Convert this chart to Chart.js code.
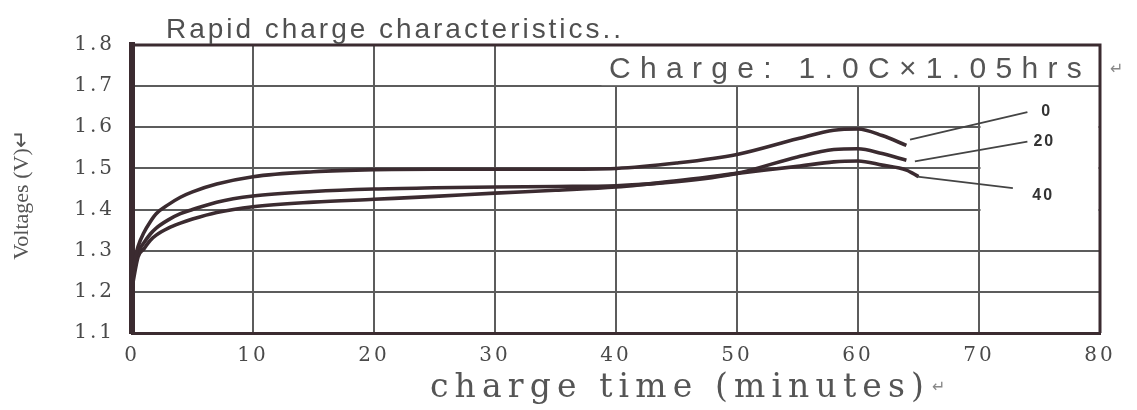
<!DOCTYPE html>
<html>
<head>
<meta charset="utf-8">
<script src="https://cdn.jsdelivr.net/npm/chart.js@4.4.1/dist/chart.umd.min.js"></script>
<style>
  html, body { margin: 0; padding: 0; background: #fff; }
  canvas { display: block; }
</style>
</head>
<body>
<canvas id="grafico" width="1137" height="410"></canvas>
<script>
// datos (tiempo en minutos, voltaje en V)
const tiempos = [0, 0.5, 1, 1.5, 2, 3, 4, 5, 7, 10, 15, 20, 25, 30, 35, 40, 45, 50, 55, 58, 60, 62, 64, 65];
const curva0  = [1.25, 1.31, 1.345, 1.37, 1.39, 1.412, 1.43, 1.443, 1.462, 1.48, 1.492, 1.497, 1.498, 1.498, 1.498, 1.5, 1.513, 1.534, 1.572, 1.593, 1.596, 1.58, 1.556, null];
const curva20 = [1.23, 1.295, 1.32, 1.34, 1.355, 1.375, 1.39, 1.40, 1.418, 1.433, 1.444, 1.45, 1.453, 1.455, 1.456, 1.458, 1.468, 1.488, 1.528, 1.546, 1.548, 1.536, 1.52, null];
const curva40 = [1.21, 1.285, 1.305, 1.325, 1.338, 1.355, 1.367, 1.377, 1.393, 1.407, 1.418, 1.425, 1.432, 1.44, 1.447, 1.455, 1.47, 1.488, 1.505, 1.516, 1.518, 1.508, 1.496, 1.48];
const etiquetasCurva = ['0', '20', '40'];
// líneas guía: [t inicio, v inicio, t fin, v fin, t etiqueta, v etiqueta]
const guias = [
  [64.3, 1.570, 74.0, 1.637, 75.6, 1.637],
  [64.7, 1.517, 74.0, 1.565, 75.4, 1.565],
  [64.9, 1.480, 72.8, 1.452, 75.3, 1.435]
];
const ticksX = [0, 10, 20, 30, 40, 50, 60, 70, 80];
const ticksY = [1.1, 1.2, 1.3, 1.4, 1.5, 1.6, 1.7, 1.8];

const OSCURO = '#3b2b30';
const GRIS = '#5c5c5c';

function puntos(valores) {
  return tiempos.map((t, i) => ({ x: t, y: valores[i] })).filter(p => p.y !== null);
}

function textoAjustado(ctx, texto, x, y, ancho) {
  ctx.letterSpacing = '0px';
  const w = ctx.measureText(texto).width;
  const esp = Math.max(0, (ancho - w) / texto.length);
  ctx.letterSpacing = esp + 'px';
  ctx.fillText(texto, x, y);
  ctx.letterSpacing = '0px';
}

const extras = {
  id: 'extras',
  beforeDraw(chart) {
    // espaciado de los números de los ejes
    chart.ctx.letterSpacing = '3px';
  },
  beforeDatasetsDraw(chart) {
    const { ctx, chartArea: a, scales: { x, y } } = chart;
    ctx.save();
    ctx.fillStyle = '#fff';
    // recuadro del texto "Charge"
    ctx.fillRect(x.getPixelForValue(38.8), a.top + 1, a.right - x.getPixelForValue(38.8) - 1, y.getPixelForValue(1.7) - a.top - 2);
    // zona de etiquetas de las curvas
    ctx.fillRect(x.getPixelForValue(70) + 1.5, y.getPixelForValue(1.7) + 1.5, a.right - x.getPixelForValue(70) - 3, y.getPixelForValue(1.35) - y.getPixelForValue(1.7));
    // marco superior y derecho
    ctx.strokeStyle = OSCURO;
    ctx.lineWidth = 3;
    ctx.beginPath();
    ctx.moveTo(a.left, a.top);
    ctx.lineTo(a.right, a.top);
    ctx.lineTo(a.right, a.bottom);
    ctx.stroke();
    ctx.restore();
  },
  afterDatasetsDraw(chart) {
    const { ctx, chartArea: a, scales: { x, y } } = chart;
    ctx.save();
    // líneas guía y etiquetas 0 / 20 / 40
    ctx.strokeStyle = '#444';
    ctx.lineWidth = 1.8;
    ctx.fillStyle = '#333';
    ctx.font = 'bold 16px "Liberation Sans"';
    ctx.textAlign = 'center';
    ctx.textBaseline = 'middle';
    guias.forEach((g, i) => {
      ctx.beginPath();
      ctx.moveTo(x.getPixelForValue(g[0]), y.getPixelForValue(g[1]));
      ctx.lineTo(x.getPixelForValue(g[2]), y.getPixelForValue(g[3]));
      ctx.stroke();
      ctx.letterSpacing = '2px';
      ctx.fillText(etiquetasCurva[i], x.getPixelForValue(g[4]), y.getPixelForValue(g[5]));
      ctx.letterSpacing = '0px';
    });

    // título
    ctx.textAlign = 'left';
    ctx.textBaseline = 'alphabetic';
    ctx.fillStyle = '#505050';
    ctx.font = '28px "Liberation Sans"';
    textoAjustado(ctx, 'Rapid charge characteristics..', 166, 38, 458);

    // condición de carga
    ctx.font = '30px "Liberation Sans"';
    ctx.fillStyle = '#555';
    textoAjustado(ctx, 'Charge: 1.0C\u00d71.05hrs', 609, 78, 482);
    ctx.font = '16px "DejaVu Sans"';
    ctx.fillStyle = '#888';
    ctx.fillText('\u21b5', 1110, 74);

    // título eje X
    ctx.font = '33px "DejaVu Serif"';
    ctx.fillStyle = '#555';
    textoAjustado(ctx, 'charge time (minutes)', 430, 397, 500);
    ctx.font = '16px "DejaVu Sans"';
    ctx.fillStyle = '#888';
    ctx.fillText('\u21b5', 932, 392);

    // título eje Y
    ctx.translate(28, 195);
    ctx.rotate(-Math.PI / 2);
    ctx.textAlign = 'center';
    ctx.font = '22px "Liberation Serif"';
    ctx.fillStyle = '#555';
    ctx.fillText('Voltages (V)\u21b5', 0, 0);
    ctx.restore();
  }
};

function crearGrafico() {
  const ctx = document.getElementById('grafico').getContext('2d');
  const estilo = { borderColor: OSCURO, borderWidth: 3.6, pointRadius: 0, cubicInterpolationMode: 'monotone', fill: false };
  new Chart(ctx, {
    type: 'line',
    data: {
      datasets: [
        Object.assign({ label: etiquetasCurva[0], data: puntos(curva0) }, estilo),
        Object.assign({ label: etiquetasCurva[1], data: puntos(curva20) }, estilo),
        Object.assign({ label: etiquetasCurva[2], data: puntos(curva40) }, estilo)
      ]
    },
    options: {
      responsive: false,
      animation: false,
      layout: { padding: { top: 45, right: 37, left: 0, bottom: 0 } },
      plugins: { legend: { display: false }, tooltip: { enabled: false } },
      scales: {
        x: {
          type: 'linear',
          min: 0, max: 80,
          afterBuildTicks: s => { s.ticks = ticksX.map(v => ({ value: v })); },
          afterFit: s => { s.height = 77; },
          grid: { color: GRIS, lineWidth: 2, drawTicks: false },
          border: { color: OSCURO, width: 3 },
          ticks: { padding: 11, color: '#4a4a4a', font: { family: '"DejaVu Serif"', size: 20 } }
        },
        y: {
          type: 'linear',
          min: 1.1, max: 1.8,
          afterBuildTicks: s => { s.ticks = ticksY.map(v => ({ value: v })); },
          afterFit: s => { s.width = 132; },
          grid: { color: GRIS, lineWidth: 2, drawTicks: false },
          border: { color: OSCURO, width: 6 },
          ticks: { padding: 17, color: '#4a4a4a', font: { family: '"DejaVu Serif"', size: 20 }, callback: v => v.toFixed(1) }
        }
      }
    },
    plugins: [extras]
  });
}

crearGrafico();
</script>
</body>
</html>
